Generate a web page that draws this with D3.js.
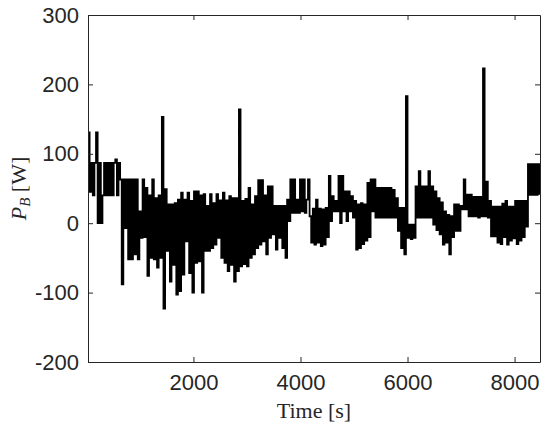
<!DOCTYPE html>
<html>
<head>
<meta charset="utf-8">
<script src="https://cdn.jsdelivr.net/npm/d3@7"></script>
<style>
  html, body { margin: 0; padding: 0; background: #fff; }
  svg { display: block; }
</style>
</head>
<body>
<svg id="chart" width="550" height="432"></svg>
<script>
// ---- data ----
const sampleStart = 30;      // s
const samplePeriod = 30;     // s
const xDomain = [30, 8475];
const yDomain = [-200, 300];
const xTicks = [2000, 4000, 6000, 8000];
const yTicks = [-200, -100, 0, 100, 200, 300];
const xTickLabels = ["2000", "4000", "6000", "8000"];
const yTickLabels = ["-200", "-100", "0", "100", "200", "300"];
const xLabel = "Time [s]";
const pB = [
  131, 45, 87, 40, 87, 131, 0, 87, 0, 40, 87, 40, 87, 40, 87, 40, 87, 92, 40, 87,
  63, -88, 63, -7, 63, -52, 63, -52, 63, -45, 63, -52, 17, -21, 63, -20, 51, -76, 40, -50,
  63, -52, 36, -64, 40, -50, 153, -123,
  49, -40, 27, -84, 27, -60, 29, -103, 34, -98, 44, -74, 34, -26, 44, -72, 32, -100,
  46, -57, 46, -55, 40, -100, 42, -40, 25, -40, 42, -36, 29, -31, 42, -21, 33, -50,
  44, -57, 33, -69, 39, -60, 36, -84, 36, -69, 164, -62,
  32, -59, 35, -62, 51, -50, 27, -45, 39, -36, 62, -31, 62, -26, 40, -45, 53, -21,
  53, -16, 25, -38, 25, -21, 25, -36, 25, -50, 34, 3,
  63, 15, 63, 15, 34, 15, 63, 17, 63, 15, 34, 63, 10,
  -28, 21, -31, 34, -28, 21, -33, 20, -31, 22, -20,
  68, 3, 39, 17, 32, 17, 68, 0, 68, 17, 46, 3,
  46, 17, 39, 8, 32,
  -38, 27, -36, 29, -30, 27, -25, 58, -20,
  63, 17, 63, 8, 51, 8, 51, 8, 51, 8, 51, 8, 51, 8, 48, 8,
  36, -11, 22, -36, 22, -45, 183, -21, -2, -23, -2, -21,
  53, 8, 75, 8, 53, 8, 53, 8, 75, 8, 53,
  -2, 46, -10, 36, -16, 30,
  -31, 17, -28, 12, -45, 10, -20,
  27, -11, 27, -11, 25, 20,
  63, 20,
  41, 10, 41, 10, 38, 10, 38, 8, 38, 10,
  223, 10, 60,
  8, 32, -19,
  24, -19, 24, -28, 24, -30, 28, -20, 32, -31, 24, -25, 24, -22, 32, -30, 32, -25,
  32, -20, 32, -5,
  85, 41, 85, 41, 85, 41, 85, 41
];
const sampleTimes = d3.range(pB.length).map(i => sampleStart + i * samplePeriod);

// ---- layout ----
const m = { left: 88, top: 15, right: 540, bottom: 362 };
const axisColor = "#262626";

const svg = d3.select("#chart");
const x = d3.scaleLinear().domain(xDomain).range([m.left, m.right]);
const y = d3.scaleLinear().domain(yDomain).range([m.bottom, m.top]);

svg.append("defs").append("clipPath").attr("id", "clip")
  .append("rect").attr("x", m.left).attr("y", m.top)
  .attr("width", m.right - m.left).attr("height", m.bottom - m.top);

// data line
const line = d3.line()
  .x((d, i) => x(sampleTimes[i]))
  .y(d => y(d))
  .curve(d3.curveStepAfter);

svg.append("path")
  .datum(pB)
  .attr("clip-path", "url(#clip)")
  .attr("fill", "none")
  .attr("stroke", "#000")
  .attr("stroke-width", 1.8)
  .attr("d", line);

// axes (MATLAB style box, inward ticks on all sides)
const tickLen = 5;
const fontTicks = "'Liberation Sans', Arial, Helvetica, sans-serif";

const bottomAxis = d3.axisBottom(x).tickValues(xTicks).tickSize(-tickLen).tickSizeOuter(0).tickPadding(12)
  .tickFormat((d, i) => xTickLabels[i]);
const topAxis = d3.axisTop(x).tickValues(xTicks).tickSize(-tickLen).tickSizeOuter(0).tickFormat("");
const leftAxis = d3.axisLeft(y).tickValues(yTicks).tickSize(-tickLen).tickSizeOuter(0).tickPadding(9)
  .tickFormat((d, i) => yTickLabels[i]);
const rightAxis = d3.axisRight(y).tickValues(yTicks).tickSize(-tickLen).tickSizeOuter(0).tickFormat("");

function styleAxis(g) {
  g.selectAll("path.domain").attr("stroke", axisColor).attr("stroke-width", 1);
  g.selectAll(".tick line").attr("stroke", axisColor).attr("stroke-width", 1);
  g.selectAll(".tick text").attr("fill", axisColor)
    .style("font-family", fontTicks).style("font-size", "22px");
}

svg.append("g").attr("transform", `translate(0,${m.bottom})`).call(bottomAxis).call(styleAxis);
svg.append("g").attr("transform", `translate(0,${m.top})`).call(topAxis).call(styleAxis);
svg.append("g").attr("transform", `translate(${m.left},0)`).call(leftAxis).call(styleAxis);
svg.append("g").attr("transform", `translate(${m.right},0)`).call(rightAxis).call(styleAxis);

// axis labels
const serifFont = "'Liberation Serif', 'Times New Roman', serif";
svg.append("text")
  .attr("x", (m.left + m.right) / 2)
  .attr("y", 418)
  .attr("text-anchor", "middle")
  .attr("fill", axisColor)
  .style("font-family", serifFont)
  .style("font-size", "22px")
  .text(xLabel);

const yl = svg.append("text")
  .attr("transform", `translate(26,${(m.top + m.bottom) / 2}) rotate(-90)`)
  .attr("text-anchor", "middle")
  .attr("fill", axisColor)
  .style("font-family", serifFont)
  .style("font-size", "22px");
yl.append("tspan").style("font-style", "italic").text("P");
yl.append("tspan").style("font-style", "italic").style("font-size", "15px").attr("dy", 4).text("B");
yl.append("tspan").attr("dy", -4).text(" [W]");
</script>
</body>
</html>
